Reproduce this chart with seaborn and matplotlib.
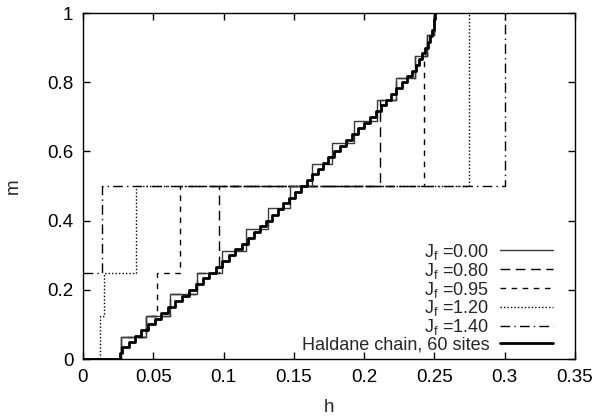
import matplotlib
matplotlib.use("Agg")
import matplotlib.pyplot as plt
import matplotlib.ticker as mticker
import seaborn as sns
import pandas as pd

# ---------- data ----------
# step curves: h where m jumps, and m after the jump (steps-post)
h_jf000 = [0.0, 0.0268, 0.0445, 0.0621, 0.0813, 0.0986, 0.1157, 0.1318, 0.1470,
           0.1627, 0.1769, 0.1928, 0.2089, 0.2224, 0.2362, 0.2445, 0.2499]
m_jf000 = [0.0, 0.0625, 0.125, 0.1875, 0.25, 0.3125, 0.375, 0.4375, 0.5,
           0.5625, 0.625, 0.6875, 0.75, 0.8125, 0.875, 0.9375, 1.0]

h_jf080 = [0.0, 0.0268, 0.0445, 0.0621, 0.0813, 0.0970, 0.2113, 0.2224, 0.2362, 0.2445, 0.2499]
m_jf080 = [0.0, 0.0625, 0.125, 0.1875, 0.25, 0.5, 0.75, 0.8125, 0.875, 0.9375, 1.0]

h_jf095 = [0.0, 0.0268, 0.0445, 0.0527, 0.0690, 0.2426, 0.2445, 0.2499]
m_jf095 = [0.0, 0.0625, 0.125, 0.25, 0.5, 0.875, 0.9375, 1.0]

h_jf120 = [0.0, 0.0121, 0.0149, 0.0377, 0.2746]
m_jf120 = [0.0, 0.125, 0.25, 0.5, 1.0]

h_jf140 = [0.0, 0.0133, 0.3000]
m_jf140 = [0.25, 0.5, 1.0]

h_haldane = [0.0, 0.0260, 0.0278, 0.0326, 0.0371, 0.0416, 0.0462, 0.0509, 0.0556,
             0.0603, 0.0654, 0.0705, 0.0756, 0.0807, 0.0853, 0.0899, 0.0945,
             0.0992, 0.1038, 0.1084, 0.1129, 0.1172, 0.1216, 0.1259, 0.1302,
             0.1344, 0.1385, 0.1425, 0.1466, 0.1506, 0.1548, 0.1590, 0.1632,
             0.1670, 0.1708, 0.1746, 0.1784, 0.1827, 0.1869, 0.1911, 0.1956,
             0.1999, 0.2042, 0.2085, 0.2120, 0.2156, 0.2192, 0.2229, 0.2266,
             0.2303, 0.2340, 0.2370, 0.2392, 0.2414, 0.2436, 0.2454, 0.2469,
             0.2483, 0.2494, 0.2499, 0.2502]
m_haldane = [j / 60 for j in range(61)]

labels = ["J$_\\mathrm{f}$ =0.00", "J$_\\mathrm{f}$ =0.80", "J$_\\mathrm{f}$ =0.95",
          "J$_\\mathrm{f}$ =1.20", "J$_\\mathrm{f}$ =1.40", "Haldane chain, 60 sites"]

x_ticks = [0, 0.05, 0.1, 0.15, 0.2, 0.25, 0.3, 0.35]
y_ticks = [0, 0.2, 0.4, 0.6, 0.8, 1.0]

# ---------- plotting ----------
sns.set_theme(style="ticks")
plt.rcParams["font.family"] = ["Liberation Sans", "DejaVu Sans"]
plt.rcParams["mathtext.fontset"] = "custom"
plt.rcParams["mathtext.rm"] = "Liberation Sans"
plt.rcParams["mathtext.it"] = "Liberation Sans"

fig = plt.figure(figsize=(6.1, 4.2), dpi=100)
ax = fig.add_axes([83 / 610, 1 - 359 / 420, 492 / 610, 346 / 420])

curves = [
    (h_jf000, m_jf000, dict(color="#3a3a3a", lw=1.0, ls="-"), 3),
    (h_jf080, m_jf080, dict(color="black", lw=1.0, ls=(0, (7, 4))), 2),
    (h_jf095, m_jf095, dict(color="black", lw=1.0, ls=(0, (4, 4))), 2),
    (h_jf120, m_jf120, dict(color="black", lw=1.0, ls=(0, (1, 1.5))), 2),
    (h_jf140, m_jf140, dict(color="black", lw=1.0, ls=(0, (7, 3, 1, 3))), 2),
    (h_haldane, m_haldane, dict(color="black", lw=2.0, ls="-"), 4),
]

for (hh, mm, style, z), lab in zip(curves, labels):
    df = pd.DataFrame({"h": hh, "m": mm})
    sns.lineplot(data=df, x="h", y="m", ax=ax, drawstyle="steps-post",
                 estimator=None, sort=False, label=lab, zorder=z,
                 color=style["color"], linewidth=style["lw"], linestyle=style["ls"])

ax.set_xlim(0, 0.35)
ax.set_ylim(0, 1)
ax.set_xticks(x_ticks)
ax.set_yticks(y_ticks)
ax.xaxis.set_major_formatter(mticker.FormatStrFormatter("%g"))
ax.yaxis.set_major_formatter(mticker.FormatStrFormatter("%g"))
ax.tick_params(direction="in", top=True, right=True, length=5, width=1,
               labelsize=13.5, colors="black", pad=7)
for sp in ax.spines.values():
    sp.set_visible(True)
    sp.set_linewidth(1.0)
    sp.set_color("black")

ax.set_xlabel("h", fontsize=13.5)
ax.xaxis.set_label_coords(0.5, -0.115)
ax.set_ylabel("m", fontsize=13.5)
ax.yaxis.set_label_coords(-0.125, 0.5)

leg = ax.legend(loc="lower right", bbox_to_anchor=(0.98, -0.02), frameon=False,
                markerfirst=False, fontsize=13, handlelength=2.9,
                handletextpad=0.6, labelspacing=-0.06, borderpad=0.2)

fig.savefig("out.png", dpi=100)
